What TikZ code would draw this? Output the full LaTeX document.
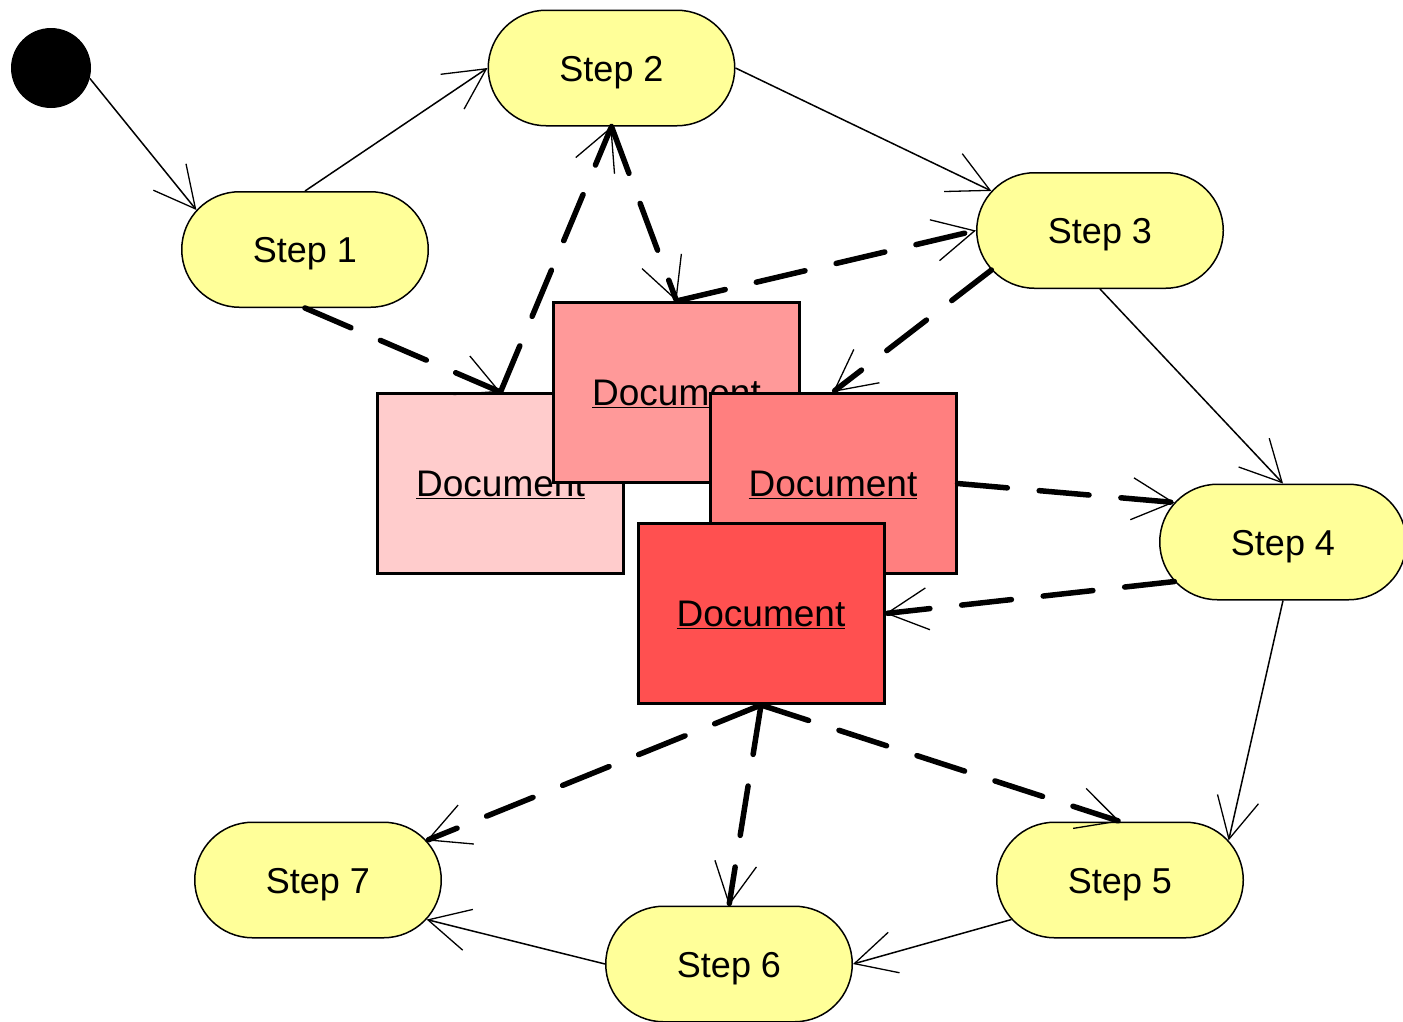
\documentclass[tikz,border=0pt]{standalone}
\usepackage{fontspec}
\setmainfont{Liberation Sans}
\usetikzlibrary{shapes.misc,arrows.meta}
\definecolor{stepyellow}{HTML}{FFFF99}
\definecolor{docA}{HTML}{FFCCCC}
\definecolor{docB}{HTML}{FF9999}
\definecolor{docC}{HTML}{FF7F7F}
\definecolor{docD}{HTML}{FF5050}
\tikzset{
  stepnode/.style={rounded rectangle, draw=black, line width=1.5pt, fill=stepyellow,
    minimum width=246.5pt, minimum height=115.5pt, inner sep=0pt,
    font=\fontsize{36}{43}\selectfont, text height=26pt, text depth=0pt},
  docnode/.style={rectangle, draw=black, line width=3pt,
    minimum width=246pt, minimum height=180pt, inner sep=0pt,
    font=\fontsize{37}{44}\selectfont, text height=26.5pt, text depth=0pt},
  startnode/.style={circle, fill=black, minimum size=80pt, inner sep=0pt},
  openhead/.tip={Straight Barb[length=41pt,width=42pt,line width=1.3pt]},
  flow/.style={line width=1.5pt, -openhead},
  docflow/.style={line width=5.5pt, line cap=round, dash pattern=on 50pt off 32pt, -openhead}
}
\begin{document}
\begin{tikzpicture}[x=1pt,y=-1pt]
\useasboundingbox (0,0) rectangle (1403,1021);

% start state
\node[startnode] (init) at (51,68) {};

% activity steps
\node[stepnode] (s1) at (305,249.5) {Step 1};
\node[stepnode] (s2) at (611.5,68) {Step 2};
\node[stepnode] (s3) at (1100,230.5) {Step 3};
\node[stepnode] (s4) at (1283,542) {Step 4};
\node[stepnode] (s5) at (1120,880) {Step 5};
\node[stepnode] (s6) at (729,964) {Step 6};
\node[stepnode] (s7) at (318,880) {Step 7};

% document objects, stacked back to front
\node[docnode, fill=docA] (dA) at (500.5,483.5) {\underline{Document}};
\node[docnode, fill=docB] (dB) at (676.5,392.5) {\underline{Document}};
\node[docnode, fill=docC] (dC) at (833,483.5) {\underline{Document}};
\node[docnode, fill=docD] (dD) at (761,613.5) {\underline{Document}};

% control flow
\draw[flow] (init.-15) -- (s1.160);
\draw[flow] (s1.north) -- (s2.west);
\draw[flow] (s2.east) -- (s3.160);
\draw[flow] (s3.south) -- (s4.north);
\draw[flow] (s4.south) -- (s5.20);
\draw[flow] (s5.200) -- (s6.east);
\draw[flow] (s6.west) -- (s7.-20);

% object flow
\draw[docflow] (s1.south) -- (dA.north);
\draw[docflow] (dA.north) -- (s2.south);
\draw[docflow] (s2.south) -- (dB.north);
\draw[docflow] (dB.north) -- (s3.west);
\draw[docflow] (s3.200) -- (dC.north);
\draw[docflow] (dC.east) -- (s4.160);
\draw[docflow] (s4.200) -- (dD.east);
\draw[docflow] (dD.south) -- (s7.20);
\draw[docflow] (dD.south) -- (s6.north);
\draw[docflow] (dD.south) -- (s5.north);
\end{tikzpicture}
\end{document}
